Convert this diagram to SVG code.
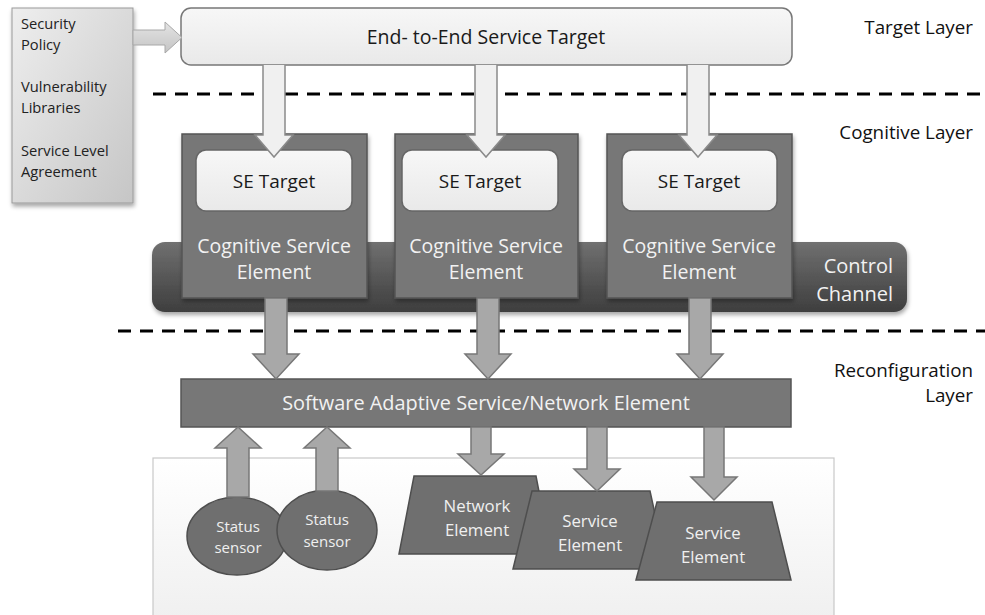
<svg xmlns="http://www.w3.org/2000/svg" width="985" height="615" viewBox="0 0 985 615">
<defs>
<linearGradient id="gLeft" x1="0" y1="0" x2="1" y2="1"><stop offset="0" stop-color="#eeeeee"/><stop offset="1" stop-color="#c6c6c6"/></linearGradient>
<linearGradient id="gLight" x1="0" y1="0" x2="0" y2="1"><stop offset="0" stop-color="#f7f7f7"/><stop offset="1" stop-color="#e9e9e9"/></linearGradient>
<linearGradient id="gChan" x1="0" y1="0" x2="0" y2="1"><stop offset="0" stop-color="#707070"/><stop offset="1" stop-color="#3e3e3e"/></linearGradient>
<linearGradient id="gBottom" x1="0" y1="0" x2="0" y2="1"><stop offset="0" stop-color="#ffffff"/><stop offset="1" stop-color="#efefef"/></linearGradient>
<linearGradient id="gArrowL" x1="0" y1="0" x2="0" y2="1"><stop offset="0" stop-color="#e4e4e4"/><stop offset="1" stop-color="#c4c4c4"/></linearGradient>
<filter id="sh" x="-10%" y="-10%" width="120%" height="130%"><feDropShadow dx="1" dy="3" stdDeviation="2" flood-color="#000" flood-opacity="0.35"/></filter>
</defs>
<style>
text{font-family:"Open Sans","Liberation Sans",sans-serif;}
.dark{fill:#777777;stroke:#555555;stroke-width:1.5;}
.wt{fill:#f2f2f2;font-size:19.5px;text-anchor:middle;}
.bt{fill:#1a1a1a;font-size:19px;text-anchor:middle;}
.lay{fill:#111;font-size:18.8px;text-anchor:end;}
.lt{fill:#222;font-size:14.7px;}
.dash{stroke:#000;stroke-width:3;stroke-dasharray:13 9;fill:none;}
.aw{fill:#f0f0f0;stroke:#8a8a8a;stroke-width:1.5;}
.ag{fill:#a8a8a8;stroke:#777;stroke-width:1.5;}
.el{fill:#6f6f6f;stroke:#4e4e4e;stroke-width:1.5;}
.et{fill:#f0f0f0;font-size:16.8px;text-anchor:middle;}
.st{fill:#f0f0f0;font-size:15px;text-anchor:middle;}
</style>
<rect width="985" height="615" fill="#ffffff"/>

<g id="dividers">
<line class="dash" x1="153" y1="94" x2="985" y2="94"/>
<line class="dash" x1="118" y1="331" x2="985" y2="331"/>
</g>

<g id="layer-labels">
<text class="lay" x="973" y="34">Target Layer</text>
<text class="lay" x="973" y="139">Cognitive Layer</text>
<text class="lay" x="973" y="377">Reconfiguration</text>
<text class="lay" x="973" y="402">Layer</text>
</g>

<g id="inputs">
<rect x="12" y="8" width="121" height="195" fill="url(#gLeft)" stroke="#9a9a9a" stroke-width="1" filter="url(#sh)"/>
<text class="lt" x="21" y="29">Security</text>
<text class="lt" x="21" y="50">Policy</text>
<text class="lt" x="21" y="92">Vulnerability</text>
<text class="lt" x="21" y="113">Libraries</text>
<text class="lt" x="21" y="156">Service Level</text>
<text class="lt" x="21" y="177">Agreement</text>
</g>

<g id="e2e-target">
<rect x="181" y="8" width="611" height="57" rx="10" fill="url(#gLight)" stroke="#777" stroke-width="1.5"/>
<text class="bt" x="486" y="44" style="font-size:19.5px">End- to-End Service Target</text>
</g>

<g id="bottom-area">
<rect x="153" y="458" width="681" height="170" fill="url(#gBottom)" stroke="#c8c8c8" stroke-width="1.2"/>
</g>

<g id="control-channel">
<rect x="152" y="242" width="755" height="70" rx="13" fill="url(#gChan)" filter="url(#sh)"/>
<text class="wt" x="893" y="273" style="text-anchor:end;font-size:20px">Control</text>
<text class="wt" x="893" y="301" style="text-anchor:end;font-size:20px">Channel</text>
</g>

<g id="cse-1">
<rect class="dark" x="182" y="134" width="185" height="164" filter="url(#sh)"/>
<rect x="196" y="150" width="156" height="61" rx="10" fill="url(#gLight)" stroke="#666" stroke-width="1.5"/>
<text class="bt" x="274" y="188">SE Target</text>
<text class="wt" x="274" y="253">Cognitive Service</text>
<text class="wt" x="274" y="279">Element</text>
</g>
<g id="cse-2">
<rect class="dark" x="395" y="134" width="183" height="164" filter="url(#sh)"/>
<rect x="402" y="150" width="156" height="61" rx="10" fill="url(#gLight)" stroke="#666" stroke-width="1.5"/>
<text class="bt" x="480" y="188">SE Target</text>
<text class="wt" x="486" y="253">Cognitive Service</text>
<text class="wt" x="486" y="279">Element</text>
</g>
<g id="cse-3">
<rect class="dark" x="607" y="134" width="185" height="164" filter="url(#sh)"/>
<rect x="622" y="150" width="155" height="61" rx="10" fill="url(#gLight)" stroke="#666" stroke-width="1.5"/>
<text class="bt" x="699" y="188">SE Target</text>
<text class="wt" x="699" y="253">Cognitive Service</text>
<text class="wt" x="699" y="279">Element</text>
</g>

<g id="sasne">
<rect class="dark" x="181" y="379" width="610" height="48"/>
<text class="wt" x="486" y="410" style="font-size:19.9px">Software Adaptive Service/Network Element</text>
</g>

<g id="sensor-1">
<ellipse class="el" cx="237" cy="536" rx="50" ry="39"/>
<text class="st" x="238" y="532">Status</text>
<text class="st" x="238" y="553">sensor</text>
</g>
<g id="sensor-2">
<ellipse class="el" cx="327" cy="530" rx="50" ry="40"/>
<text class="st" x="327" y="525">Status</text>
<text class="st" x="327" y="547">sensor</text>
</g>

<g id="network-element">
<polygon class="el" points="414,476 536,476 551,554 399,554"/>
<text class="et" x="477" y="512">Network</text>
<text class="et" x="477" y="536">Element</text>
</g>
<g id="service-element-1">
<polygon class="el" points="532,491 650,491 667,569 513,569"/>
<text class="et" x="590" y="527">Service</text>
<text class="et" x="590" y="551">Element</text>
</g>
<g id="service-element-2">
<polygon class="el" points="657,502 772,502 791,580 636,580"/>
<text class="et" x="713" y="539">Service</text>
<text class="et" x="713" y="563">Element</text>
</g>

<g id="connectors">
<path d="M133,30 H165 V22 L182,37.5 L165,53 V45 H133 Z" fill="url(#gArrowL)" stroke="#a8a8a8" stroke-width="1"/>
<path class="aw" d="M263,65 V135 H255 L274,157 L293,135 H285 V65"/>
<path class="aw" d="M475,65 V135 H467 L486,157 L505,135 H497 V65"/>
<path class="aw" d="M687,65 V135 H679 L698,157 L717,135 H709 V65"/>
<path class="ag" d="M265,298 V354 H253 L276,379 L299,354 H287 V298 Z"/>
<path class="ag" d="M477,298 V354 H465 L488,379 L511,354 H499 V298 Z"/>
<path class="ag" d="M689,298 V354 H677 L700,379 L723,354 H711 V298 Z"/>
<path class="ag" d="M227,497 V448 H215 L238,427 L261,448 H249 V497 Z"/>
<path class="ag" d="M316,491 V448 H304 L327,427 L350,448 H338 V491 Z"/>
<path class="ag" d="M471,427 V454 H458 L481,475 L504,454 H491 V427 Z"/>
<path class="ag" d="M587,427 V469 H574 L597,491 L620,469 H607 V427 Z"/>
<path class="ag" d="M704,427 V477 H691 L714,500 L737,477 H724 V427 Z"/>
</g>
</svg>
